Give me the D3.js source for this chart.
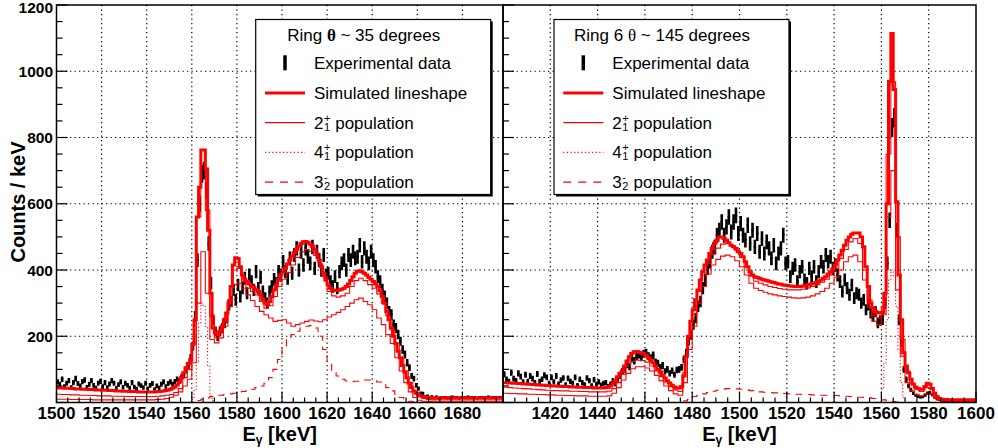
<!DOCTYPE html>
<html>
<head>
<meta charset="utf-8">
<script src="https://cdn.jsdelivr.net/npm/d3@7"></script>
<style>
  body { margin: 0; background: #fff; }
  svg { display: block; }
  text { font-family: "Liberation Sans", Arial, Helvetica, sans-serif; }
</style>
</head>
<body>
<svg id="chart" width="998" height="448"></svg>
<script>
// ---------------------------------------------------------------
// Energy ranges of the two spectra (keV)
const leftRange = [1500, 1698];
const rightRange = [1400, 1600];

// ---------------- Ring at ~35 degrees (left) -------------------
// experimental counts per 1 keV bin, starting at 1500 keV
const leftExp = [
  62,55,70,48,58,66,45,60,72,57,
  50,63,68,46,55,66,52,44,58,64,
  48,60,45,56,66,58,43,54,62,46,
  58,52,44,60,47,41,56,51,45,58,
  42,52,57,40,50,44,55,62,48,57,
  62,55,63,70,64,78,82,98,110,135,
  170,260,430,600,690,700,640,480,360,250,
  215,200,215,225,240,255,295,305,340,310,
  355,320,345,375,330,385,365,340,395,345,
  378,335,315,300,335,350,372,360,395,385,
  425,395,375,435,390,445,465,400,455,415,
  465,440,420,470,405,455,430,400,445,385,
  390,365,350,380,345,395,420,430,400,445,
  430,455,435,440,475,425,465,440,420,455,
  430,410,380,365,340,320,300,275,265,235,
  225,205,185,160,145,120,105,80,72,52,
  42,28,27,18,20,15,18,13,17,12,
  15,14,16,13,15,17,14,15,13,16,
  14,15,17,14,16,15,13,15,16,14,
  15,17,14,15,16,14,15,16
];
// simulated lineshape, 1 keV bins from 1500 keV
const leftSim = [
  45,44,44,43,43,43,42,42,41,41,
  41,40,40,40,39,39,39,38,38,38,
  37,37,37,36,36,36,35,35,35,34,
  34,34,33,33,33,33,32,32,32,32,
  32,32,32,32,33,33,34,35,36,38,
  40,43,47,53,62,75,90,105,118,128,
  175,250,560,650,762,762,705,520,330,225,
  210,205,215,230,250,270,300,350,415,437,
  435,410,385,372,365,358,352,348,342,335,
  325,312,300,295,305,320,340,355,370,385,
  395,405,418,430,442,452,462,472,480,485,
  486,484,478,472,462,448,430,410,390,370,
  355,345,340,338,338,340,342,345,350,358,
  368,380,390,396,398,395,390,385,378,372,
  365,358,350,338,320,300,275,250,225,200,
  178,155,135,112,92,75,58,45,35,28,
  24,20,18,16,15,15,14,14,14,14,
  14,14,14,14,14,14,14,14,14,14,
  14,14,14,14,14,14,14,14,14,14,
  14,14,14,14,14,14,14,14
];
// simulated lineshape without background, 2 keV bins from 1500 keV
const leftSimNoBg = [
  25,24,24,23,23,22,22,21,21,20,20,20,19,19,19,18,18,18,18,18,18,18,19,20,22,
  24,30,42,75,100,180,560,720,580,260,195,210,245,310,400,405,365,345,335,325,305,285,292,320,350,
  372,392,415,438,455,462,456,445,418,380,335,322,318,322,330,350,368,375,368,356,345,328,300,262,220,
  178,135,95,60,35,20,12,9,8,8,8,8,8,8,8,8,8,8,8,8,8,8,8,8
];
// 2+_1 population, 2 keV bins from 1500 keV
const leftPop2 = [
  10,10,10,9,9,9,9,9,8,8,8,8,8,8,8,8,8,8,8,8,8,8,9,10,12,
  16,22,32,50,70,120,300,455,330,190,180,195,230,290,355,360,345,325,308,290,275,265,255,245,248,
  250,240,230,235,240,245,249,246,244,250,258,265,272,280,290,300,310,315,305,295,280,255,235,205,178,
  135,95,60,32,15,7,4,3,2,2,2,2,2,2,2,2,2,2,2,2,2,2,2,2
];
// 3-_2 population, 2 keV bins from 1500 keV
const leftPop3 = [
  0,0,0,0,0,0,0,0,0,0,0,0,0,0,0,0,0,0,0,0,0,0,0,0,0,0,0,0,0,0,
  3,6,10,14,18,20,22,24,26,28,30,33,36,40,45,50,58,75,100,130,
  165,190,205,215,225,230,232,225,200,160,120,95,80,70,65,63,64,66,68,68,66,62,55,45,35,25,15,8,4,2,
  0,0,0,0,0,0,0,0,0,0,0,0,0,0,0,0,0,0,0
];
// 4+_1 population, 1 keV bins from 1560 keV
const leftPop4Start = 1560;
const leftPop4 = [10,40,120,240,300,290,230,110,20,5];

// ---------------- Ring 6, ~145 degrees (right) -----------------
// experimental counts per 1 keV bin, starting at 1400 keV
const rightExp = [
  85,70,64,90,72,66,88,78,62,84,
  64,80,72,60,86,64,70,82,76,58,
  76,62,80,56,68,74,54,73,64,58,
  76,52,70,60,54,74,66,51,69,55,
  62,53,58,60,49,56,66,56,70,80,
  95,100,114,108,132,126,140,145,136,147,
  150,140,134,142,122,118,106,112,94,100,
  88,96,84,98,100,106,130,150,186,205,
  235,255,290,305,345,370,405,425,455,470,
  505,520,545,505,530,560,515,545,565,510,
  540,505,490,535,480,520,470,510,455,495,
  450,485,465,435,475,420,450,465,505,420,
  425,380,405,415,365,395,410,370,360,405,
  380,410,365,395,425,410,445,425,440,405,
  415,385,365,335,370,345,325,355,315,330,
  325,300,310,280,295,270,260,275,240,248,
  250,300,420,550,830,860,520,250,180,100,
  70,50,38,28,22,18,16,17,22,28,
  30,24,16,10,8,6,5,5,4,4,
  4,3,4,3,3,4,3,3,3,3
];
// simulated lineshape, 1 keV bins from 1400 keV
const rightSim = [
  60,60,59,59,58,58,57,57,56,56,
  55,55,54,54,53,53,52,52,51,51,
  50,50,50,49,49,48,48,48,47,47,
  47,46,46,46,45,45,45,45,44,44,
  44,44,44,45,46,50,56,66,78,88,
  95,110,125,138,148,153,154,152,150,148,
  142,135,128,120,110,100,92,82,74,66,
  59,52,47,44,44,48,80,140,200,245,
  280,310,340,370,395,415,430,450,465,480,
  490,500,500,495,490,482,475,470,465,455,
  450,440,425,410,395,385,380,377,375,372,
  370,368,366,364,362,360,358,357,355,354,
  353,352,351,350,350,350,351,352,354,356,
  358,360,362,365,370,375,380,388,395,402,
  415,430,445,460,475,490,500,508,512,512,
  512,500,470,410,350,300,285,275,270,272,
  272,330,600,970,1114,945,606,385,250,150,
  110,90,70,55,47,42,40,40,48,58,
  55,42,28,18,12,10,9,9,8,8,
  8,8,8,8,8,8,8,8,8,8
];
// simulated lineshape without background, 2 keV bins from 1400 keV
const rightSimNoBg = [
  46,45,44,43,42,41,40,39,38,37,
  36,36,35,35,34,34,33,33,32,32,
  32,32,34,42,60,85,110,124,128,127,
  122,110,95,78,62,48,38,33,90,190,
  265,335,385,420,448,466,478,480,472,460,
  438,410,382,366,360,355,350,347,344,342,
  340,340,340,342,346,350,356,363,372,385,
  405,435,462,485,495,480,400,310,262,255,
  290,750,968,500,190,95,58,40,33,45,
  42,20,12,8,6,5,5,5,5,5
];
// 2+_1 population, 2 keV bins from 1400 keV
const rightPop2 = [
  28,27,27,26,26,25,25,24,24,23,
  23,22,22,21,21,20,20,20,19,19,
  19,19,20,28,45,68,88,102,108,108,
  104,95,82,66,50,36,26,22,60,160,
  230,300,350,388,415,432,442,445,440,428,
  410,385,360,345,338,333,328,325,322,320,
  318,316,315,316,318,322,328,335,345,360,
  378,400,425,440,445,425,370,290,245,235,
  265,560,700,340,140,60,35,25,20,26,
  26,14,8,5,4,3,3,3,3,3
];
// 3-_2 population, 2 keV bins from 1400 keV
const rightPop3 = [
  0,0,0,0,0,0,0,0,0,0,
  0,0,0,0,0,0,0,0,0,0,
  0,0,0,0,0,0,0,0,0,0,
  0,0,0,0,0,0,0,0,5,10,
  18,22,26,30,34,37,40,42,42,41,
  40,38,36,34,32,31,30,29,28,27,
  26,25,25,24,24,23,23,22,22,21,
  21,20,19,18,17,16,15,14,12,10,
  8,5,3,1,0,0,0,0,0,0,
  0,0,0,0,0,0,0,0,0,0
];
// 4+_1 population, 1 keV bins from 1560 keV
const rightPop4Start = 1560;
const rightPop4 = [40,120,250,370,400,380,290,160,60,15];

// ---------------- axis labels and legend text ------------------
const yTickLabels = [200, 400, 600, 800, 1000, 1200];
const leftXTickLabels = [1500, 1520, 1540, 1560, 1580, 1600, 1620, 1640, 1660, 1680];
const rightXTickLabels = [1420, 1440, 1460, 1480, 1500, 1520, 1540, 1560, 1580, 1600];
const legendTitles = [["Ring ", "θ", " ~ 35 degrees"], ["Ring 6 ", "θ", " ~ 145 degrees"]];
const legendRows = ["Experimental data", "Simulated lineshape",
  ["2", "+", "1", " population"], ["4", "+", "1", " population"], ["3", "-", "2", " population"]];

// ---------------------------------------------------------------
const svg = d3.select("#chart");
const RED = "#ff0000";
const plotTop = 5, plotBottom = 402.5;
const y = d3.scaleLinear().domain([0, 1200]).range([plotBottom, plotTop]);

const panels = [
  {
    id: "left", px: [56.5, 503], range: leftRange,
    exp: leftExp, expStart: leftRange[0],
    sim: leftSim, simNoBg: leftSimNoBg, pop2: leftPop2, pop3: leftPop3,
    pop4: leftPop4, pop4Start: leftPop4Start,
    xLabels: leftXTickLabels, gridX: leftXTickLabels.filter(v => v > leftRange[0]),
    legend: { x: 255.7, y: 19.5, title: legendTitles[0], titleBold: true }
  },
  {
    id: "right", px: [503, 976], range: rightRange,
    exp: rightExp, expStart: rightRange[0],
    sim: rightSim, simNoBg: rightSimNoBg, pop2: rightPop2, pop3: rightPop3,
    pop4: rightPop4, pop4Start: rightPop4Start,
    xLabels: rightXTickLabels, gridX: rightXTickLabels.filter(v => v < rightRange[1]),
    legend: { x: 554, y: 19.5, title: legendTitles[1], titleBold: false }
  }
];

function stepPoints(vals, start, width) {
  const pts = [];
  vals.forEach((v, i) => {
    pts.push([start + i * width, v]);
    pts.push([start + (i + 1) * width, v]);
  });
  return pts;
}

panels.forEach(p => {
  const x = d3.scaleLinear().domain(p.range).range(p.px);
  const g = svg.append("g");
  const clipId = "clip-" + p.id;
  svg.append("defs").append("clipPath").attr("id", clipId)
    .append("rect").attr("x", p.px[0]).attr("y", plotTop)
    .attr("width", p.px[1] - p.px[0]).attr("height", plotBottom - plotTop);

  // dotted grid
  const grid = g.append("g").attr("stroke", "#000").attr("stroke-width", 1.2)
    .attr("stroke-dasharray", "1.3,3.2");
  p.gridX.forEach(v => grid.append("line")
    .attr("x1", x(v)).attr("x2", x(v)).attr("y1", plotTop).attr("y2", plotBottom));
  yTickLabels.filter(v => v < 1200).forEach(v => grid.append("line")
    .attr("x1", p.px[0]).attr("x2", p.px[1]).attr("y1", y(v)).attr("y2", y(v)));

  const data = g.append("g").attr("clip-path", `url(#${clipId})`);
  const line = d3.line().x(d => x(d[0])).y(d => y(d[1]));

  // experimental data with statistical error bars
  const expG = data.append("g").attr("stroke", "#000");
  p.exp.forEach((v, i) => {
    const e0 = p.expStart + i, err = Math.sqrt(v);
    expG.append("line").attr("x1", x(e0 + 0.5)).attr("x2", x(e0 + 0.5))
      .attr("y1", y(v - err)).attr("y2", y(v + err)).attr("stroke-width", 2.6);
    expG.append("line").attr("x1", x(e0)).attr("x2", x(e0 + 1))
      .attr("y1", y(v)).attr("y2", y(v)).attr("stroke-width", 2.2);
  });

  // population components and simulated lineshapes
  data.append("path").attr("d", line(stepPoints(p.pop3, p.range[0], 2)))
    .attr("fill", "none").attr("stroke", RED).attr("stroke-width", 1.1)
    .attr("stroke-dasharray", "7,6");
  data.append("path").attr("d", line(stepPoints(p.pop4, p.pop4Start, 1)))
    .attr("fill", "none").attr("stroke", RED).attr("stroke-width", 1.1)
    .attr("stroke-dasharray", "1.2,2.2");
  data.append("path").attr("d", line(stepPoints(p.pop2, p.range[0], 2)))
    .attr("fill", "none").attr("stroke", RED).attr("stroke-width", 1.1);
  data.append("path").attr("d", line(stepPoints(p.simNoBg, p.range[0], 2)))
    .attr("fill", "none").attr("stroke", RED).attr("stroke-width", 1.1);
  data.append("path").attr("d", line(stepPoints(p.sim, p.range[0], 1)))
    .attr("fill", "none").attr("stroke", RED).attr("stroke-width", 3);

  // frame
  g.append("rect").attr("x", p.px[0]).attr("y", plotTop)
    .attr("width", p.px[1] - p.px[0]).attr("height", plotBottom - plotTop)
    .attr("fill", "none").attr("stroke", "#000").attr("stroke-width", 1.5);

  // inward ticks
  const ticks = g.append("g").attr("stroke", "#000").attr("stroke-width", 1.2);
  d3.range(0, 1201, 50).forEach(v => {
    const len = v % 200 === 0 ? 11 : 6;
    ticks.append("line").attr("x1", p.px[0]).attr("x2", p.px[0] + len)
      .attr("y1", y(v)).attr("y2", y(v));
  });
  d3.range(Math.ceil(p.range[0] / 5) * 5, p.range[1] + 0.1, 5).forEach(v => {
    const len = v % 20 === 0 ? 11 : 5;
    ticks.append("line").attr("x1", x(v)).attr("x2", x(v))
      .attr("y1", plotBottom).attr("y2", plotBottom - len);
  });

  // x tick labels and title
  p.xLabels.forEach(v => g.append("text").attr("x", x(v)).attr("y", 418.5)
    .attr("text-anchor", "middle").attr("font-size", 17).attr("font-weight", "bold")
    .text(v));
  const xt = g.append("text").attr("x", (p.px[0] + p.px[1]) / 2).attr("y", 440.5)
    .attr("text-anchor", "middle").attr("font-size", 20).attr("font-weight", "bold");
  xt.append("tspan").text("E");
  xt.append("tspan").attr("font-size", 12).attr("dy", 3.5).text("γ");
  xt.append("tspan").attr("dy", -3.5).text(" [keV]");

  // legend
  const L = p.legend, lw = 235, lh = 175;
  const lg = svg.append("g");
  lg.append("rect").attr("x", L.x + 2).attr("y", L.y + 2).attr("width", lw).attr("height", lh)
    .attr("fill", "#000");
  lg.append("rect").attr("x", L.x).attr("y", L.y).attr("width", lw).attr("height", lh)
    .attr("fill", "#fff").attr("stroke", "#000").attr("stroke-width", 1.2);
  const tt = lg.append("text").attr("x", L.x + 108).attr("y", L.y + 21)
    .attr("text-anchor", "middle").attr("font-size", 17);
  tt.append("tspan").text(L.title[0]);
  tt.append("tspan").attr("font-family", "Liberation Serif, DejaVu Serif, serif")
    .attr("font-weight", L.titleBold ? "bold" : "normal").text(L.title[1]);
  tt.append("tspan").text(L.title[2]);

  const tx = L.x + 58.3, sx0 = L.x + 9.3, sx1 = L.x + 49.3;
  legendRows.forEach((row, i) => {
    const base = L.y + 49.8 + i * 29.7, mid = base - 6;
    if (i === 0) {
      lg.append("line").attr("x1", L.x + 29.3).attr("x2", L.x + 29.3)
        .attr("y1", mid - 8).attr("y2", mid + 7).attr("stroke", "#000").attr("stroke-width", 3.5);
    } else {
      const s = lg.append("line").attr("x1", sx0).attr("x2", sx1).attr("y1", mid).attr("y2", mid)
        .attr("stroke", RED).attr("stroke-width", i === 1 ? 3 : 1.2);
      if (i === 3) s.attr("stroke-dasharray", "1.2,2.4");
      if (i === 4) s.attr("stroke-dasharray", "8,7");
    }
    const t = lg.append("text").attr("x", tx).attr("y", base).attr("font-size", 17)
      .style("white-space", "pre");
    if (typeof row === "string") {
      t.text(row);
    } else {
      // level label: base digit with stacked parity (superscript) and index (subscript)
      const b = t.append("tspan").text(row[0]);
      const w = b.node().getComputedTextLength();
      t.append("tspan").attr("x", tx + w + 0.5).attr("dy", -7).attr("font-size", 11).text(row[1]);
      t.append("tspan").attr("x", tx + w + 0.5).attr("dy", 9).attr("font-size", 11).text(row[2]);
      t.append("tspan").attr("x", tx + w + 7).attr("dy", -2).text(row[3]);
    }
  });
});

// shared y axis labels
yTickLabels.forEach(v => svg.append("text").attr("x", 53).attr("y", Math.max(y(v), 7.5)).attr("dy", "0.36em")
  .attr("text-anchor", "end").attr("font-size", 15.5).attr("font-weight", "bold").text(v));
svg.append("text").attr("transform", "translate(25,202) rotate(-90)")
  .attr("text-anchor", "middle").attr("font-size", 20).attr("font-weight", "bold")
  .text("Counts / keV");
</script>
</body>
</html>
